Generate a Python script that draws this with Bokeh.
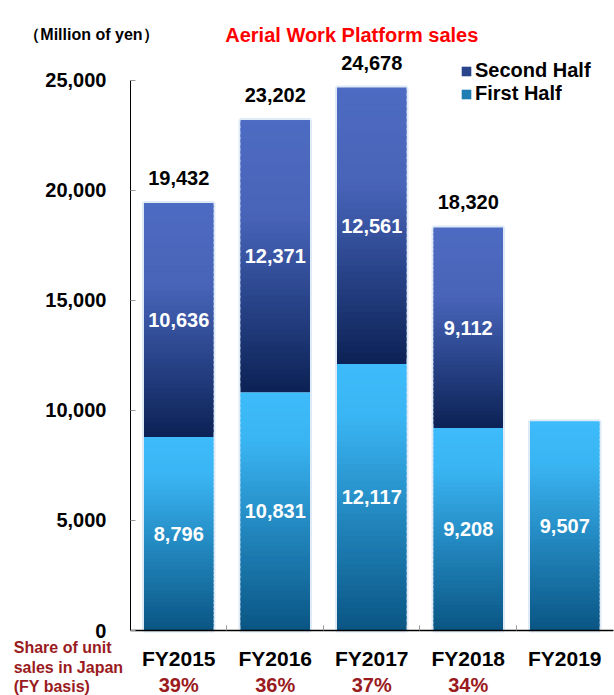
from bokeh.plotting import figure
from bokeh.models import (Range1d, LinearAxis, FixedTicker, NumeralTickFormatter,
                          ColumnDataSource, LabelSet, Label, Legend, LegendItem)
from bokeh.core.properties import value
from bokeh.embed import file_html
from bokeh.resources import INLINE

# ---------------- data ----------------
years = ["FY2015", "FY2016", "FY2017", "FY2018", "FY2019"]
first_half = [8796, 10831, 12117, 9208, 9507]
second_half = [10636, 12371, 12561, 9112, None]
share_japan = ["39%", "36%", "37%", "34%", ""]
y_ticks = [0, 5000, 10000, 15000, 20000, 25000]

FONT = "Liberation Sans"
DARK_RED = "#9A1B1E"

# gradient stops (t measured from segment top to bottom)
second_stops = [(0.0, (0x4E, 0x6B, 0xC3)), (0.35, (0x48, 0x64, 0xB8)),
                (0.65, (0x2A, 0x45, 0x8C)), (1.0, (0x0C, 0x22, 0x55))]
first_stops = [(0.0, (0x3D, 0xBB, 0xFA)), (0.2, (0x3A, 0xB5, 0xF3)),
               (0.6, (0x21, 0x84, 0xBB)), (1.0, (0x0A, 0x55, 0x84))]


def grad_color(stops, t):
    for (t0, c0), (t1, c1) in zip(stops[:-1], stops[1:]):
        if t0 <= t <= t1:
            f = (t - t0) / (t1 - t0) if t1 > t0 else 0
            c = [round(a + (b - a) * f) for a, b in zip(c0, c1)]
            return "#%02x%02x%02x" % tuple(c)
    return "#%02x%02x%02x" % stops[-1][1]


N = 48
BAR_W = 0.72


def slices(bases, heights, stops):
    d = dict(left=[], right=[], bottom=[], top=[], color=[])
    for i, (b, h) in enumerate(zip(bases, heights)):
        if not h:
            continue
        x = i + 1
        for k in range(N):
            lo = b + h * k / N
            hi = min(b + h, b + h * (k + 1.6) / N)
            t = 1 - (k + 0.5) / N
            d["left"].append(x - BAR_W / 2)
            d["right"].append(x + BAR_W / 2)
            d["bottom"].append(lo)
            d["top"].append(hi)
            d["color"].append(grad_color(stops, t))
    return ColumnDataSource(d)


src_first = slices([0] * len(years), first_half, first_stops)
src_second = slices(first_half, second_half, second_stops)
bar_tops = [f + (s or 0) for f, s in zip(first_half, second_half)]
src_glow = ColumnDataSource(dict(left=[i + 1 - BAR_W / 2 for i in range(len(years))],
                                 right=[i + 1 + BAR_W / 2 for i in range(len(years))],
                                 bottom=[0] * len(years), top=bar_tops))

# frame covers the whole canvas; axes are pinned with fixed_location
p = figure(width=614, height=695, x_range=Range1d(-0.847, 5.5155), y_range=Range1d(-2954.5, 28636),
           output_backend="svg", toolbar_location=None,
           min_border_left=0, min_border_right=0, min_border_top=0, min_border_bottom=0,
           x_axis_type=None, y_axis_type=None)
p.outline_line_color = None
p.background_fill_color = "white"

p.quad(left="left", right="right", bottom="bottom", top="top", source=src_glow,
       fill_color=None, line_color="#c9dcf2", line_width=4, line_alpha=0.6)
r_first = p.quad(left="left", right="right", bottom="bottom", top="top", source=src_first,
                 fill_color="color", line_color=None)
r_second = p.quad(left="left", right="right", bottom="bottom", top="top", source=src_second,
                  fill_color="color", line_color=None)

# axes
yaxis = LinearAxis(ticker=FixedTicker(ticks=y_ticks), formatter=NumeralTickFormatter(format="0,0"),
                   bounds=(0, 25000), fixed_location=0.5)
yaxis.axis_line_color = "black"
yaxis.axis_line_width = 1
yaxis.major_tick_in = 5
yaxis.major_tick_out = 0
yaxis.major_tick_line_color = "#999999"
yaxis.minor_tick_line_color = None
yaxis.major_label_standoff = 24
yaxis.major_label_text_font = FONT
yaxis.major_label_text_font_style = "bold"
yaxis.major_label_text_font_size = "20px"
yaxis.major_label_text_color = "black"
p.add_layout(yaxis, "left")

xaxis = LinearAxis(ticker=FixedTicker(ticks=[1, 2, 3, 4, 5], minor_ticks=[1.5, 2.5, 3.5, 4.5]),
                   major_label_overrides={i + 1: y for i, y in enumerate(years)},
                   bounds=(0.5, 5.5), fixed_location=0)
xaxis.axis_line_color = "black"
xaxis.axis_line_width = 1.5
xaxis.major_tick_line_color = None
xaxis.minor_tick_in = 5
xaxis.minor_tick_out = 0
xaxis.minor_tick_line_color = "#999999"
xaxis.major_label_standoff = 10
xaxis.major_label_text_font = FONT
xaxis.major_label_text_font_style = "bold"
xaxis.major_label_text_font_size = "21px"
xaxis.major_label_text_color = "black"
p.add_layout(xaxis, "below")

# value labels
idx2 = [i for i, v in enumerate(second_half) if v]
totals = [first_half[i] + second_half[i] for i in idx2]
lab_tot = ColumnDataSource(dict(x=[i + 1 for i in idx2], y=totals,
                                t=["{:,}".format(v) for v in totals]))
lab_sec = ColumnDataSource(dict(x=[i + 1 for i in idx2],
                                y=[first_half[i] + second_half[i] / 2 for i in idx2],
                                t=["{:,}".format(second_half[i]) for i in idx2]))
lab_fir = ColumnDataSource(dict(x=[i + 1 for i in range(len(years))],
                                y=[v / 2 for v in first_half],
                                t=["{:,}".format(v) for v in first_half]))
lab_share = ColumnDataSource(dict(x=[i + 1 for i in range(len(years))], y=[0] * len(years),
                                  t=share_japan))

common = dict(x="x", y="y", text="t", text_align="center", text_baseline="middle",
              text_font=value(FONT), text_font_style="bold")
p.add_layout(LabelSet(source=lab_tot, y_offset=25, text_font_size="20px", text_color="black", **common))
p.add_layout(LabelSet(source=lab_sec, text_font_size="20px", text_color="white", **common))
p.add_layout(LabelSet(source=lab_fir, text_font_size="20px", text_color="white", **common))
p.add_layout(LabelSet(source=lab_share, y_offset=-54, text_font_size="20px", text_color=DARK_RED, **common))

# titles
p.add_layout(Label(x=2.793, y=27090, text="Aerial Work Platform sales", text_align="center",
                   text_baseline="middle", text_font=FONT, text_font_style="bold",
                   text_font_size="20px", text_color="#FF0000"))
p.add_layout(Label(x=-0.6, y=27090, text="（Million of yen）", text_align="left",
                   text_baseline="middle", text_font=FONT, text_font_style="bold",
                   text_font_size="16px", text_color="black"))
p.add_layout(Label(x=-0.71, y=-400, text="Share of unit\nsales in Japan\n(FY basis)", text_align="left",
                   text_baseline="top", text_font=FONT, text_font_style="bold",
                   text_font_size="16px", text_color=DARK_RED, text_line_height=1.15))

# legend
legend = Legend(items=[LegendItem(label="Second Half", renderers=[r_second], index=N // 3),
                       LegendItem(label="First Half", renderers=[r_first], index=N // 3)],
                location=(460, 590))
legend.label_text_font = FONT
legend.label_text_font_style = "bold"
legend.label_text_font_size = "20px"
legend.label_text_color = "black"
legend.glyph_width = 12
legend.glyph_height = 12
legend.label_standoff = 3
legend.spacing = 0
legend.padding = 0
legend.margin = 0
legend.border_line_color = None
legend.background_fill_alpha = 0
p.add_layout(legend)

open("out.html", "w").write(file_html(p, INLINE))
